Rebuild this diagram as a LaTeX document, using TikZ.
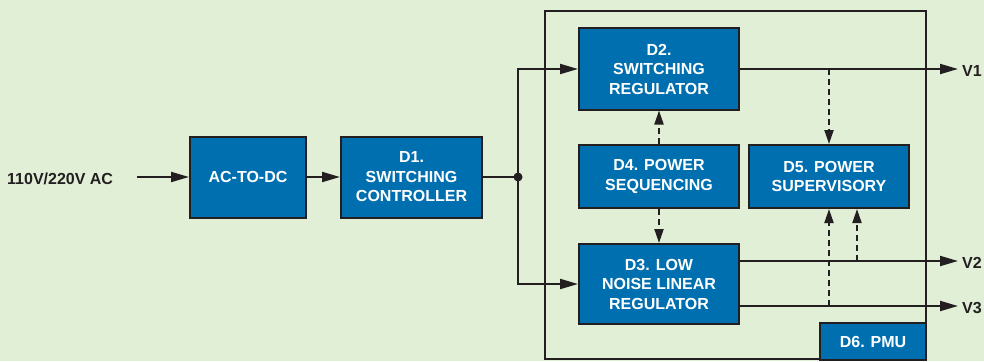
\documentclass[tikz,border=0pt]{standalone}
\usepackage{fontspec}
\setmainfont{Liberation Sans}
\usetikzlibrary{arrows.meta,positioning}
\definecolor{bg}{RGB}{225,239,214}
\definecolor{boxblue}{RGB}{0,111,176}
\definecolor{ink}{RGB}{35,31,32}
\tikzset{
  blk/.style={draw=ink, line width=2pt, fill=boxblue, text=white, align=center,
    font=\fontsize{16}{19.5}\selectfont\bfseries, inner sep=0pt},
  lbl/.style={text=ink, font=\fontsize{16}{19}\selectfont\bfseries, inner sep=0pt},
  arr/.style={draw=ink, line width=2pt, -{Triangle[length=18pt,width=10pt]}},
  wire/.style={draw=ink, line width=2pt},
  darr/.style={draw=ink, line width=2pt, dash pattern=on 6pt off 4pt,
    -{Triangle[length=14pt,width=9pt]}},
}
\begin{document}
\begin{tikzpicture}[x=1pt,y=-1pt]
\fill[bg] (0,0) rectangle (984,361);
\useasboundingbox (0,0) rectangle (984,361);
% outer container
\node[draw=ink, line width=1.8pt, minimum width=381pt, minimum height=348pt, inner sep=0pt] (outer) at (735.5,185) {};
% blocks
\node[blk, minimum width=116pt, minimum height=81pt] (acdc) at (248,177) {AC-TO-DC};
\node[blk, minimum width=141pt, minimum height=81pt] (d1) at (411.5,177) {D1.\\SWITCHING\\CONTROLLER};
\node[blk, minimum width=160pt, minimum height=81pt] (d2) at (659,69) {D2.\\SWITCHING\\REGULATOR};
\node[blk, minimum width=160pt, minimum height=63pt] (d4) at (659,176.5) {D4. POWER\\SEQUENCING};
\node[blk, minimum width=160pt, minimum height=63pt] (d5) at (829,176.5) {D5. POWER\\SUPERVISORY};
\node[blk, minimum width=160pt, minimum height=80pt] (d3) at (659,284) {D3. LOW\\NOISE LINEAR\\REGULATOR};
\node[blk, minimum width=106pt, minimum height=37pt] (d6) at (873,341.5) {D6. PMU};
% labels
\node[lbl, anchor=west] (ac) at (7,179) {110V/220V AC};
\node[lbl, anchor=west] (v1) at (962,71) {V1};
\node[lbl, anchor=west] (v2) at (962,263) {V2};
\node[lbl, anchor=west] (v3) at (962,308) {V3};
% junction
\node[circle, fill=ink, minimum size=9pt, inner sep=0pt] (j) at (518,177) {};
\coordinate (acs) at (137,177);
\coordinate (v1e) at (958,69);
\coordinate (v2e) at (958,261);
\coordinate (v3e) at (958,306);
\coordinate (tap1) at (829,69);
\coordinate (tap2) at (857,261);
% connectors
\draw[arr] (acs) -- (acdc.west);
\draw[arr] (acdc.east) -- (d1.west);
\draw[wire] (d1.east) -- (j.center);
\draw[arr] (j.center) |- (d2.west);
\draw[arr] (j.center) |- (d3.west);
\draw[arr] (d2.east) -- (v1e);
\draw[arr] (d3.east |- v2e) -- (v2e);
\draw[arr] (d3.east |- v3e) -- (v3e);
\draw[darr] (d4.north) -- (d2.south);
\draw[darr] (d4.south) -- (d3.north);
\draw[darr] (tap1) -- (d5.north);
\draw[darr] (d5.south |- v3e) -- (d5.south);
\draw[darr] (tap2) -- (tap2 |- d5.south);
\end{tikzpicture}
\end{document}
